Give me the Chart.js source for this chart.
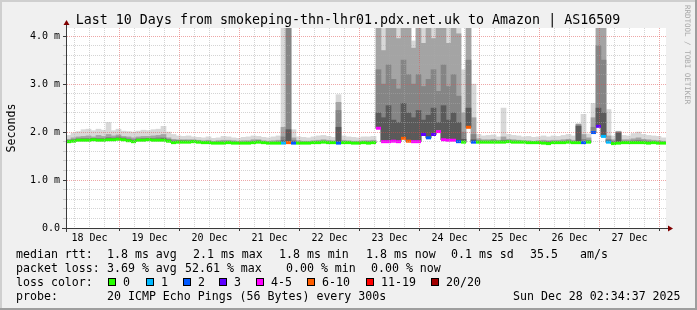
<!DOCTYPE html>
<html>
<head>
<meta charset="utf-8">
<script src="https://cdn.jsdelivr.net/npm/chart.js@4.4.1/dist/chart.umd.min.js"></script>
<style>
  html, body { margin: 0; padding: 0; background: #f0f0f0; }
  canvas { display: block; }
</style>
</head>
<body>
<canvas id="smoke" width="697" height="310"></canvas>
<script>
// time axis: hours after 18 Dec 00:00, graph covers 10 days ending 28 Dec 02:34
const startHour = 2.58;
const endHour = 242.58;
const binHours = 2;

const titleText = 'Last 10 Days from smokeping-thn-lhr01.pdx.net.uk to Amazon | AS16509';
const dayLabels = ['18 Dec', '19 Dec', '20 Dec', '21 Dec', '22 Dec', '23 Dec', '24 Dec', '25 Dec', '26 Dec', '27 Dec'];
const yTickLabels = ['0.0', '1.0 m', '2.0 m', '3.0 m', '4.0 m'];

// median rtt (ms), one value per 2 h bin
const medianRtt = [
  1.80, 1.81, 1.83, 1.83, 1.83, 1.84, 1.83, 1.83, 1.84, 1.84, 1.85, 1.84,
  1.82, 1.80, 1.83, 1.83, 1.84, 1.83, 1.83, 1.83, 1.81, 1.78, 1.79, 1.79,
  1.79, 1.80, 1.79, 1.78, 1.78, 1.77, 1.77, 1.77, 1.78, 1.77, 1.77, 1.77,
  1.77, 1.78, 1.79, 1.78, 1.77, 1.77, 1.77, 1.77, 1.78, 1.77, 1.77, 1.77,
  1.77, 1.78, 1.78, 1.79, 1.78, 1.78, 1.77, 1.78, 1.78, 1.77, 1.77, 1.78,
  1.77, 1.78, 2.08, 1.80, 1.80, 1.81, 1.80, 1.87, 1.81, 1.80, 1.80, 1.95,
  1.88, 1.95, 2.01, 1.84, 1.83, 1.83, 1.80, 1.79, 2.10, 1.79, 1.79, 1.79,
  1.79, 1.79, 1.79, 1.79, 1.80, 1.79, 1.79, 1.79, 1.78, 1.78, 1.78, 1.77,
  1.76, 1.78, 1.78, 1.78, 1.79, 1.78, 1.78, 1.78, 1.79, 1.99, 2.12, 1.91,
  1.79, 1.76, 1.77, 1.78, 1.78, 1.78, 1.78, 1.78, 1.77, 1.78, 1.77, 1.77
];
// lost pings out of 20 per bin
const lostPings = [
  0, 0, 0, 0, 0, 0, 0, 0, 0, 0, 0, 0,
  0, 0, 0, 0, 0, 0, 0, 0, 0, 0, 0, 0,
  0, 0, 0, 0, 0, 0, 0, 0, 0, 0, 0, 0,
  0, 0, 0, 0, 0, 0, 0, 1, 7, 2, 0, 0,
  0, 0, 0, 0, 0, 0, 2, 0, 0, 0, 0, 0,
  0, 0, 4, 5, 4, 5, 4, 7, 8, 5, 4, 3,
  2, 3, 5, 4, 5, 4, 2, 0, 8, 2, 0, 0,
  0, 0, 0, 0, 0, 0, 0, 0, 0, 0, 0, 0,
  0, 0, 0, 0, 0, 0, 0, 2, 0, 2, 3, 1,
  1, 0, 0, 0, 0, 0, 0, 0, 0, 0, 0, 0
];
// smoke: ping rtt (ms) reached by each band, outer band first
const smokeMax = [
  1.93, 1.98, 2.01, 2.05, 2.06, 2.03, 2.06, 2.04, 2.20, 2.03, 2.06, 2.02,
  2.01, 2.00, 2.02, 2.04, 2.03, 2.05, 2.06, 2.12, 2.00, 1.95, 1.92, 1.91,
  1.92, 1.90, 1.89, 1.88, 1.90, 1.87, 1.88, 1.91, 1.90, 1.88, 1.87, 1.89,
  1.90, 1.92, 1.91, 1.89, 1.88, 1.90, 1.92, 4.30, 4.30, 2.05, 1.90, 1.89,
  1.88, 1.90, 1.92, 1.93, 1.91, 1.89, 2.78, 1.92, 1.90, 1.89, 1.88, 1.90,
  1.90, 1.91, 4.30, 4.30, 4.30, 4.30, 4.30, 4.30, 4.30, 3.90, 4.30, 4.30,
  4.30, 4.30, 4.30, 4.30, 4.30, 4.30, 4.30, 3.30, 4.30, 3.00, 1.95, 1.92,
  1.93, 1.94, 1.90, 2.50, 1.95, 1.93, 1.92, 1.90, 1.91, 1.89, 1.90, 1.92,
  1.90, 1.92, 1.91, 1.93, 1.95, 1.92, 2.18, 2.37, 1.96, 2.60, 4.30, 4.30,
  2.47, 1.92, 2.02, 1.93, 1.92, 1.97, 2.00, 1.95, 1.93, 1.92, 1.91, 1.88
];
const smokeUpper = [
  1.85, 1.88, 1.90, 1.91, 1.92, 1.90, 1.93, 1.91, 1.95, 1.92, 1.94, 1.91,
  1.90, 1.88, 1.90, 1.91, 1.91, 1.92, 1.93, 1.95, 1.88, 1.85, 1.84, 1.84,
  1.84, 1.84, 1.83, 1.82, 1.83, 1.81, 1.82, 1.83, 1.83, 1.82, 1.81, 1.82,
  1.82, 1.84, 1.84, 1.82, 1.81, 1.82, 1.83, 2.10, 4.30, 1.88, 1.82, 1.81,
  1.81, 1.82, 1.83, 1.84, 1.83, 1.82, 2.62, 1.83, 1.82, 1.81, 1.81, 1.82,
  1.82, 1.83, 4.30, 3.70, 4.30, 4.30, 3.95, 4.30, 4.30, 3.75, 4.30, 3.85,
  4.30, 3.95, 4.30, 4.30, 3.85, 4.30, 4.05, 2.40, 4.30, 2.30, 1.86, 1.84,
  1.84, 1.85, 1.83, 1.90, 1.85, 1.84, 1.83, 1.82, 1.82, 1.81, 1.82, 1.83,
  1.82, 1.83, 1.83, 1.84, 1.85, 1.83, 2.16, 1.95, 1.88, 2.30, 4.30, 4.30,
  1.92, 1.84, 2.01, 1.84, 1.84, 1.86, 1.88, 1.85, 1.84, 1.83, 1.82, 1.81
];
const smokeMid = [
  1.82, 1.84, 1.86, 1.87, 1.87, 1.87, 1.87, 1.87, 1.89, 1.88, 1.90, 1.88,
  1.86, 1.84, 1.86, 1.87, 1.87, 1.87, 1.88, 1.88, 1.85, 1.82, 1.82, 1.82,
  1.82, 1.82, 1.81, 1.80, 1.80, 1.79, 1.80, 1.80, 1.80, 1.80, 1.79, 1.79,
  1.80, 1.81, 1.82, 1.80, 1.79, 1.79, 1.80, 1.90, 4.30, 1.83, 1.79, 1.79,
  1.79, 1.80, 1.80, 1.81, 1.80, 1.80, 2.45, 1.80, 1.80, 1.79, 1.79, 1.80,
  1.80, 1.80, 3.30, 3.00, 3.40, 3.10, 2.90, 3.50, 3.20, 3.00, 3.20, 2.95,
  3.10, 3.30, 2.85, 3.40, 2.95, 3.20, 2.75, 2.00, 3.50, 1.95, 1.82, 1.81,
  1.81, 1.82, 1.81, 1.83, 1.82, 1.81, 1.81, 1.80, 1.80, 1.80, 1.80, 1.80,
  1.80, 1.80, 1.80, 1.81, 1.82, 1.80, 2.15, 1.85, 1.83, 2.10, 3.80, 3.50,
  1.85, 1.81, 2.00, 1.81, 1.81, 1.82, 1.83, 1.82, 1.81, 1.80, 1.80, 1.79
];
const smokeCore = [
  1.81, 1.83, 1.85, 1.85, 1.85, 1.86, 1.85, 1.85, 1.86, 1.86, 1.87, 1.86,
  1.84, 1.82, 1.85, 1.85, 1.86, 1.85, 1.85, 1.86, 1.83, 1.80, 1.81, 1.81,
  1.80, 1.81, 1.80, 1.79, 1.79, 1.78, 1.78, 1.78, 1.79, 1.78, 1.78, 1.78,
  1.78, 1.79, 1.80, 1.79, 1.78, 1.78, 1.78, 1.82, 2.05, 1.80, 1.78, 1.78,
  1.78, 1.79, 1.79, 1.80, 1.79, 1.79, 2.10, 1.79, 1.79, 1.78, 1.78, 1.79,
  1.79, 1.79, 2.40, 2.30, 2.55, 2.25, 2.20, 2.60, 2.40, 2.30, 2.45, 2.25,
  2.35, 2.50, 2.20, 2.55, 2.25, 2.40, 2.20, 1.85, 2.50, 1.84, 1.80, 1.80,
  1.80, 1.80, 1.80, 1.81, 1.81, 1.80, 1.80, 1.79, 1.79, 1.79, 1.79, 1.78,
  1.79, 1.79, 1.79, 1.80, 1.80, 1.79, 2.12, 1.80, 1.80, 2.00, 2.50, 2.40,
  1.82, 1.79, 1.98, 1.80, 1.79, 1.80, 1.80, 1.80, 1.79, 1.79, 1.78, 1.78
];

const lossLabels = ['0', '1', '2', '3', '4-5', '6-10', '11-19', '20/20'];
const lossLimits = [0, 1, 2, 3, 5, 10, 19, 20];
const lossColors = ['#26ff00', '#00b8ff', '#0059ff', '#5e00ff', '#ff00ff', '#ff5e00', '#ff0000', '#a10000'];

const rttStats = ['1.8 ms avg', '2.1 ms max', '1.8 ms min', '1.8 ms now', '0.1 ms sd', '35.5', 'am/s'];
const lossStats = ['3.69 % avg', '52.61 % max', '0.00 % min', '0.00 % now'];
const probeText = '20 ICMP Echo Pings (56 Bytes) every 300s';
const stampText = 'Sun Dec 28 02:34:37 2025';

const axisColor = '#3a3a3a';
const arrowColor = '#800000';
const minorGrid = 'rgba(170,170,170,0.5)';
const majorGrid = 'rgba(222,80,80,0.5)';
const mono = '"DejaVu Sans Mono", monospace';

function lossColor(n) {
  for (let k = 0; k < lossLimits.length; k++) {
    if (n <= lossLimits[k]) return lossColors[k];
  }
  return lossColors[lossColors.length - 1];
}

function binTime(i) {
  return startHour + binHours * (i + 0.5);
}

// floating bar from the median up to the band top
function band(tops) {
  return tops.map((v, i) => ({ x: binTime(i), y: [medianRtt[i], v] }));
}

function isWhole(v) {
  return Math.abs(v - Math.round(v)) < 1e-6;
}

const rrdFrame = {
  id: 'rrdFrame',
  beforeDraw(chart) {
    const ctx = chart.ctx;
    const a = chart.chartArea;
    const w = chart.width, h = chart.height;
    ctx.save();
    ctx.fillStyle = '#f0f0f0';
    ctx.fillRect(0, 0, w, h);
    ctx.fillStyle = '#cfcfcf';
    ctx.fillRect(0, 0, w, 2);
    ctx.fillRect(0, 0, 2, h);
    ctx.fillStyle = '#9e9e9e';
    ctx.fillRect(0, h - 2, w, 2);
    ctx.fillRect(w - 2, 0, 2, h);
    ctx.fillStyle = '#ffffff';
    ctx.fillRect(a.left, a.top, a.right - a.left, a.bottom - a.top);
    ctx.restore();
  },
  afterDraw(chart) {
    const ctx = chart.ctx;
    const a = chart.chartArea;
    const ax = a.left + 0.5;
    const ay = a.bottom + 0.5;
    ctx.save();

    // axis extensions and arrows
    ctx.strokeStyle = axisColor;
    ctx.lineWidth = 1;
    ctx.beginPath();
    ctx.moveTo(ax, a.bottom + 4);
    ctx.lineTo(ax, a.top - 3);
    ctx.moveTo(a.left - 4, ay);
    ctx.lineTo(a.right + 3, ay);
    ctx.stroke();
    ctx.fillStyle = arrowColor;
    ctx.beginPath();
    ctx.moveTo(ax - 3, a.top - 3);
    ctx.lineTo(ax + 3, a.top - 3);
    ctx.lineTo(ax, a.top - 8);
    ctx.closePath();
    ctx.fill();
    ctx.beginPath();
    ctx.moveTo(a.right + 2, ay - 3);
    ctx.lineTo(a.right + 2, ay + 3);
    ctx.lineTo(a.right + 7, ay);
    ctx.closePath();
    ctx.fill();

    // title
    ctx.fillStyle = '#000';
    ctx.textBaseline = 'alphabetic';
    ctx.textAlign = 'center';
    ctx.font = '13.3px ' + mono;
    ctx.fillText(titleText, 348, 24);

    // vertical texts
    ctx.font = '11.6px ' + mono;
    ctx.save();
    ctx.translate(15, (a.top + a.bottom) / 2);
    ctx.rotate(-Math.PI / 2);
    ctx.fillText('Seconds', 0, 0);
    ctx.restore();
    ctx.save();
    ctx.fillStyle = '#a8a8a8';
    ctx.font = '7.5px ' + mono;
    ctx.textAlign = 'left';
    ctx.translate(685, 5);
    ctx.rotate(Math.PI / 2);
    ctx.fillText('RRDTOOL / TOBI OETIKER', 0, 0);
    ctx.restore();

    // legend block
    ctx.textAlign = 'left';
    ctx.font = '11.6px ' + mono;
    ctx.fillStyle = '#000';
    ctx.fillText('median rtt:', 16, 258);
    [107, 193, 279, 366, 451, 530, 580].forEach((x, k) => ctx.fillText(rttStats[k], x, 258));
    ctx.fillText('packet loss:', 16, 272);
    [107, 185, 286, 371].forEach((x, k) => ctx.fillText(lossStats[k], x, 272));
    ctx.fillText('loss color:', 16, 286);
    const boxX = [108, 146, 183, 219, 256, 307, 366, 431];
    boxX.forEach((x, k) => {
      ctx.fillStyle = '#000';
      ctx.fillRect(x, 278, 8, 8);
      ctx.fillStyle = lossColors[k];
      ctx.fillRect(x + 1, 279, 6, 6);
      ctx.fillStyle = '#000';
      ctx.fillText(lossLabels[k], x + 15, 286);
    });
    ctx.fillText('probe:', 16, 300);
    ctx.fillText(probeText, 107, 300);
    ctx.fillText(stampText, 513, 300);
    ctx.restore();
  }
};

const smokeBar = (label, tops, color, order) => ({
  type: 'bar',
  label: label,
  data: band(tops),
  backgroundColor: color,
  borderWidth: 0,
  grouped: false,
  barPercentage: 1,
  categoryPercentage: 1,
  order: order
});

new Chart(document.getElementById('smoke'), {
  type: 'bar',
  data: {
    datasets: [
      {
        type: 'line',
        label: 'median rtt',
        data: medianRtt.map((v, i) => ({ x: binTime(i), y: v })),
        showLine: false,
        pointStyle: 'line',
        pointRadius: 2.5,
        pointBorderWidth: 3,
        pointBorderColor: c => lossColor(lostPings[c.dataIndex]),
        order: 0
      },
      smokeBar('core', smokeCore, '#5a5a5a', 1),
      smokeBar('mid', smokeMid, '#858585', 2),
      smokeBar('upper', smokeUpper, '#a4a4a4', 3),
      smokeBar('max', smokeMax, '#d8d8d8', 4)
    ]
  },
  options: {
    responsive: false,
    animation: false,
    devicePixelRatio: 1,
    events: [],
    layout: { padding: { left: 0, right: 31, top: 28, bottom: 0 } },
    plugins: { legend: { display: false }, tooltip: { enabled: false }, title: { display: false } },
    scales: {
      x: {
        type: 'linear',
        min: startHour,
        max: endHour,
        offset: false,
        afterBuildTicks(s) {
          s.ticks = [];
          for (let h = 6; h <= 240; h += 6) s.ticks.push({ value: h });
        },
        afterFit(s) { s.height = 82; },
        ticks: {
          autoSkip: false,
          maxRotation: 0,
          padding: 1,
          color: '#000',
          font: { family: mono, size: 10 },
          callback: v => (v % 24 === 12 ? dayLabels[(v - 12) / 24] : '')
        },
        grid: {
          offset: false,
          z: 1,
          tickLength: 3,
          color: c => (c.tick && c.tick.value % 24 === 0 ? majorGrid : minorGrid),
          tickColor: c => (c.tick && c.tick.value % 24 === 0 ? axisColor : 'rgba(0,0,0,0)')
        },
        border: { color: axisColor, z: 2, dash: [1, 1] }
      },
      y: {
        type: 'linear',
        min: 0,
        max: 4.17,
        afterBuildTicks(s) {
          s.ticks = [];
          for (let k = 0; k <= 20; k++) s.ticks.push({ value: k / 5 });
        },
        afterFit(s) { s.width = 66; },
        ticks: {
          autoSkip: false,
          padding: 3,
          color: '#000',
          font: { family: mono, size: 10 },
          callback: v => (isWhole(v) ? yTickLabels[Math.round(v)] : '')
        },
        grid: {
          z: 1,
          tickLength: 3,
          color: c => (c.tick && isWhole(c.tick.value) ? majorGrid : minorGrid),
          tickColor: c => (c.tick && isWhole(c.tick.value) ? axisColor : minorGrid)
        },
        border: { color: axisColor, z: 2, dash: [1, 1] }
      }
    }
  },
  plugins: [rrdFrame]
});
</script>
</body>
</html>
